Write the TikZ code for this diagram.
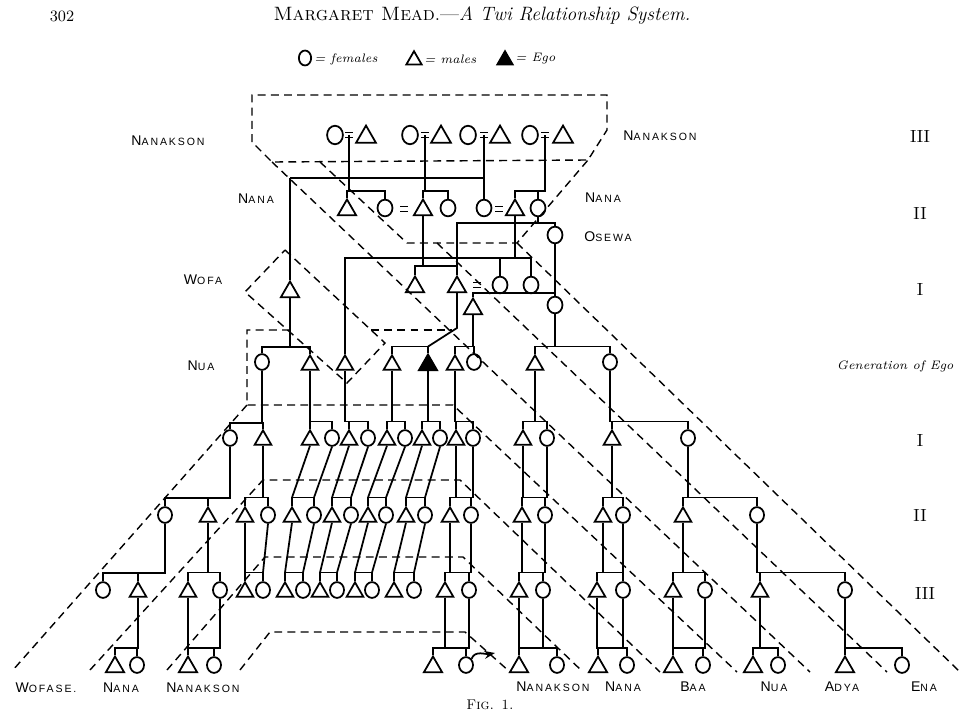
\documentclass[tikz,border=0pt]{standalone}
\usepackage{fontspec}
\usetikzlibrary{shapes.geometric,arrows.meta}
\newfontfamily\lblfont[LetterSpace=18]{Liberation Sans}
\newcommand\kin[2]{{\lblfont\fontsize{8}{9}\selectfont #1\fontsize{6}{7}\selectfont #2}}
\newcommand\marry[1]{\draw[ln] ([shift={(-4,-2.5)}]#1) -- ([shift={(4,-2.5)}]#1) ([shift={(-4,2.5)}]#1) -- ([shift={(4,2.5)}]#1);}
\begin{document}
\begin{tikzpicture}[x=0.02cm,y=-0.02cm,
 ln/.style={line width=1pt},
 dsh/.style={line width=0.8pt, dash pattern=on 4.5pt off 3pt},
 tri/.style={draw, line width=1pt, regular polygon, regular polygon sides=3, inner sep=0pt, minimum size=11pt},
 utri/.style={tri, minimum size=12pt},
 btri/.style={tri, minimum size=13pt},
 etri/.style={tri, fill=black, minimum size=12pt},
 cir/.style={draw, line width=1pt, ellipse, inner sep=0pt, minimum width=8pt, minimum height=9pt},
 ucir/.style={cir, minimum width=8.5pt, minimum height=9.5pt},
 bcir/.style={cir, minimum width=9pt, minimum height=10.5pt},
 txt/.style={inner sep=0pt},
 num/.style={inner sep=0pt, font=\fontsize{10}{11}\selectfont},
]
\fill[white] (0,0) rectangle (960,713);
\useasboundingbox (0,0) rectangle (960,713);

% ---------- header ----------
\node[txt] (pg) at (62,16) {\fontsize{9}{10}\selectfont 302};
\node[txt] (title) at (482,16) {\fontsize{11}{13}\selectfont\textsc{Margaret Mead}.---\textit{A Twi Relationship System.}};
\node[cir, minimum width=7pt, minimum height=8.5pt] (lgf) at (305,58) {};
\node[txt, anchor=west] (lgft) at (314,59) {\fontsize{7}{8}\selectfont\itshape = females};
\node[tri, minimum size=10pt] (lgm) at (414,60) {};
\node[txt, anchor=west] (lgmt) at (424,59) {\fontsize{7}{8}\selectfont\itshape = males};
\node[tri, fill=black, minimum size=10pt] (lge) at (505,60) {};
\node[txt, anchor=west] (lget) at (515,59) {\fontsize{7}{8}\selectfont\itshape = Ego};

% ---------- dashed regions ----------
\draw[dsh] (252,142) -- (252,95) -- (607,95) -- (607,130) -- (588,160) -- (272,162) -- cycle;
\draw[dsh] (272,162) -- (810,672);
\draw[dsh] (320,162) -- (407,243) -- (517,243) -- (588,160);
\draw[dsh] (437,243) -- (887,672);
\draw[dsh] (517,243) -- (960,672);
\draw[dsh] (285,250) -- (385,343) -- (347,383) -- (245,292) -- cycle;
\draw[dsh] (290,330) -- (247,330) -- (247,405) -- (453,405) -- (737,672);
\draw[dsh] (371,330) -- (452,330);
\draw[dsh] (247,405) -- (13,670);
\draw[dsh] (90,670) -- (263,480) -- (460,480) -- (660,672);
\draw[dsh] (167,670) -- (265,557) -- (463,557) -- (583,672);
\draw[dsh] (240,670) -- (270,632) -- (465,632) -- (510,672);

% ---------- generation III (top) ----------
\node[bcir] (p1f) at (335,135) {};
\node[btri] (p1m) at (366,137) {};
\node[bcir] (p2f) at (410,135) {};
\node[btri] (p2m) at (441,137) {};
\node[bcir] (p3f) at (468,135) {};
\node[btri] (p3m) at (500,137) {};
\node[bcir] (p4f) at (530,135) {};
\node[btri] (p4m) at (563,137) {};
\coordinate (e1) at (349,135); \coordinate (e2) at (425,135);
\coordinate (e3) at (484,135); \coordinate (e4) at (545,135);
\marry{e1}\marry{e2}\marry{e3}\marry{e4}

% ---------- generation II ----------
\node[utri] (q1) at (347,210) {};
\node[ucir] (q2) at (385,208) {};
\node[utri] (q3) at (423,210) {};
\node[ucir] (q4) at (448,208) {};
\node[ucir] (q5) at (484,208) {};
\node[utri] (q6) at (515,210) {};
\node[ucir] (q7) at (538,208) {};
\coordinate (e5) at (404,209); \coordinate (e6) at (499,209);
\marry{e5}\marry{e6}
\node[ucir] (os) at (555,235) {};

% ---------- generation I (parents) ----------
\node[utri] (w) at (290,292) {};
\node[utri] (r1) at (415,287) {};
\node[utri] (r2) at (457,287) {};
\node[ucir] (r3) at (500,285) {};
\node[ucir] (r4) at (531,285) {};
\coordinate (e7) at (477,285); \marry{e7}
\node[utri] (s1) at (473,309) {};
\node[ucir] (s2) at (555,305) {};

% ---------- generation of Ego ----------
\node[cir] (n1) at (262,362) {};
\node[tri] (n2) at (310,365) {};
\node[tri] (n3) at (345,365) {};
\node[tri] (n4) at (392,365) {};
\node[etri] (ego) at (428,365) {};
\node[tri] (n6) at (455,365) {};
\node[cir] (n7) at (474,362) {};
\node[tri] (n8) at (535,365) {};
\node[cir] (n9) at (610,362) {};

% ---------- descendants I ----------
\node[cir] (AL1) at (230,438) {};
\node[tri] (AL2) at (263,440) {};
\node[tri] (A1) at (310,440) {};
\node[cir] (A2) at (332,438) {};
\node[tri] (A3) at (349,440) {};
\node[cir] (A4) at (368,438) {};
\node[tri] (A5) at (387,440) {};
\node[cir] (A6) at (405,438) {};
\node[tri] (A7) at (422,440) {};
\node[cir] (A8) at (440,438) {};
\node[tri] (A9) at (456,440) {};
\node[cir] (A10) at (473,438) {};
\node[tri] (AR1) at (523,440) {};
\node[cir] (AR2) at (547,438) {};
\node[tri] (AR3) at (612,440) {};
\node[cir] (AR4) at (688,438) {};

% ---------- descendants II ----------
\node[cir] (BL1) at (165,515) {};
\node[tri] (BL2) at (208,517) {};
\node[tri] (BL3) at (245,517) {};
\node[cir] (BL4) at (268,515) {};
\node[tri] (B1) at (292,517) {};
\node[cir] (B2) at (314,515) {};
\node[tri] (B3) at (332,517) {};
\node[cir] (B4) at (351,515) {};
\node[tri] (B5) at (368,517) {};
\node[cir] (B6) at (386,515) {};
\node[tri] (B7) at (406,517) {};
\node[cir] (B8) at (425,515) {};
\node[tri] (B9) at (450,517) {};
\node[cir] (B10) at (471,515) {};
\node[tri] (BR1) at (522,517) {};
\node[cir] (BR2) at (545,515) {};
\node[tri] (BR3) at (603,517) {};
\node[cir] (BR4) at (623,515) {};
\node[tri] (BR5) at (683,517) {};
\node[cir] (BR6) at (757,515) {};

% ---------- descendants III ----------
\node[cir] (CL1) at (103,590) {};
\node[tri] (CL2) at (138,592) {};
\node[tri] (CL3) at (188,592) {};
\node[cir] (CL4) at (220,590) {};
\node[tri] (CL5) at (245,592) {};
\node[cir] (CL6) at (263,590) {};
\node[tri] (C1) at (285,592) {};
\node[cir] (C2) at (303,590) {};
\node[tri] (C3) at (320,592) {};
\node[cir] (C4) at (337,590) {};
\node[tri] (C5) at (355,592) {};
\node[cir] (C6) at (372,590) {};
\node[tri] (C7) at (394,592) {};
\node[cir] (C8) at (414,590) {};
\node[tri] (C9) at (445,592) {};
\node[cir] (C10) at (469,590) {};
\node[tri] (CR1) at (519,592) {};
\node[cir] (CR2) at (543,590) {};
\node[tri] (CR3) at (597,592) {};
\node[cir] (CR4) at (623,590) {};
\node[tri] (CR5) at (673,592) {};
\node[cir] (CR6) at (705,590) {};
\node[tri] (CR7) at (760,592) {};
\node[cir] (CR8) at (845,590) {};

% ---------- bottom row ----------
\node[utri] (DL1) at (115,667) {};
\node[cir] (DL2) at (137,665) {};
\node[utri] (DL3) at (188,667) {};
\node[cir] (DL4) at (214,665) {};
\node[utri] (D1) at (433,667) {};
\node[cir] (D2) at (466,665) {};
\node[utri] (DR1) at (519,667) {};
\node[cir] (DR2) at (557,665) {};
\node[utri] (DR3) at (598,667) {};
\node[cir] (DR4) at (627,665) {};
\node[utri] (DR5) at (673,667) {};
\node[cir] (DR6) at (703,665) {};
\node[utri] (DR7) at (753,667) {};
\node[cir] (DR8) at (778,665) {};
\node[utri] (DR9) at (845,667) {};
\node[cir] (DR10) at (902,665) {};

% ---------- connectors: top ----------
\draw[ln] (q1.north) -- ++(0,-7) coordinate (k1) -| (q2.north);
\draw[ln] (e1) -- (e1 |- k1);
\draw[ln] (q3.north) -- ++(0,-7) coordinate (k2) -| (q4.north);
\draw[ln] (e2) -- (e2 |- k2);
\coordinate (w0) at (290,178);
\draw[ln] (e3) -- (q5.north);
\draw[ln] (w0) -- (w0 -| e3);
\draw[ln] (w0) -- (w.north);
\draw[ln] (q6.north) -- ++(0,-7) coordinate (k4) -- (k4 -| e4) -- (e4);
\draw[ln] (q7.north) -- (q7.north |- k4);
\coordinate (rt) at (457,223);
\draw[ln] (q7.south) -- (q7.south |- rt);
\draw[ln] (r2.north) -- (rt) -- (rt -| os) -- (os.north);
\coordinate (hh) at (515,258);
\draw[ln] (q6.south) -- (hh);
\draw[ln] (n3.north) -- (n3.north |- hh) -- (r4.north |- hh) -- (r4.north);
\draw[ln] (r3.north |- hh) -- (r3.north);
\draw[ln] (r1.north) -- ++(0,-9) coordinate (k5) -| (r2.north);
\draw[ln] (q3.south) -- (q3.south |- k5);
\draw[ln] (os.south) -- (s2.north);
\draw[ln] (s1.north) -- ++(0,-4) coordinate (k6) -- (k6 -| s2);

% ---------- connectors: generation of Ego ----------
\draw[ln] (n1.north) -- ++(0,-6) coordinate (k7) -| (n2.north);
\draw[ln] (w.south) -- (w.south |- k7);
\coordinate (kink) at (457,328);
\draw[ln] (n4.north) -- ++(0,-7) coordinate (k8) -| (ego.north);
\draw[ln] (r2.south) -- (kink) -- (ego.north |- k8);
\draw[ln] (n6.north) -- ++(0,-7) coordinate (k9) -| (n7.north);
\draw[ln] (s1.south) -- (s1.south |- k9);
\draw[ln] (n8.north) -- ++(0,-7) coordinate (k10) -| (n9.north);
\draw[ln] (s2.south) -- (s2.south |- k10);

% ---------- connectors: descendants I ----------
\draw[ln] (AL1.north) -- ++(0,-6) coordinate (g1) -| (AL2.north);
\draw[ln] (n1.south) |- (g1);
\draw[ln] (A1.north) -- ++(0,-7) coordinate (g2) -| (A2.north);
\draw[ln] (n2.south) -- (n2.south |- g2);
\draw[ln] (A3.north) -- ++(0,-7) coordinate (g3) -| (A4.north);
\draw[ln] (n3.south) |- (g3);
\draw[ln] (A5.north) -- ++(0,-7) coordinate (g4) -| (A6.north);
\draw[ln] (n4.south) |- (g4);
\draw[ln] (A7.north) -- ++(0,-7) coordinate (g5) -| (A8.north);
\draw[ln] (ego.south) |- (g5);
\draw[ln] (A9.north) -- ++(0,-7) coordinate (g6) -| (A10.north);
\draw[ln] (n6.south) |- (g6);
\draw[ln] (AR1.north) -- ++(0,-7) coordinate (g7) -| (AR2.north);
\draw[ln] (n8.south) |- (g7);
\draw[ln] (AR3.north) -- ++(0,-7) coordinate (g8) -| (AR4.north);
\draw[ln] (n9.south) |- (g8);

% ---------- connectors: descendants II ----------
\draw[ln] (BL1.north) -- ++(0,-8) coordinate (h1) -| (AL1.south);
\draw[ln] (BL2.north) -- (BL2.north |- h1);
\draw[ln] (BL3.north) -- ++(0,-8) coordinate (h2) -| (BL4.north);
\draw[ln] (AL2.south) -- (AL2.south |- h2);
\draw[ln] (B1.north) -- ++(0,-8) coordinate (h3) -| (B2.north);
\draw[ln] (A1.south) -- (h3); \draw[ln] (A2.south) -- (B2.north |- h3);
\draw[ln] (B3.north) -- ++(0,-8) coordinate (h4) -| (B4.north);
\draw[ln] (A3.south) -- (h4); \draw[ln] (A4.south) -- (B4.north |- h4);
\draw[ln] (B5.north) -- ++(0,-8) coordinate (h5) -| (B6.north);
\draw[ln] (A5.south) -- (h5); \draw[ln] (A6.south) -- (B6.north |- h5);
\draw[ln] (B7.north) -- ++(0,-8) coordinate (h6) -| (B8.north);
\draw[ln] (A7.south) -- (h6); \draw[ln] (A8.south) -- (B8.north |- h6);
\draw[ln] (B9.north) -- ++(0,-8) coordinate (h7) -| (B10.north);
\draw[ln] (A9.south) |- (h7); \draw[ln] (A10.south) -- (A10.south |- h7);
\draw[ln] (BR1.north) -- ++(0,-8) coordinate (h8) -| (BR2.north);
\draw[ln] (AR1.south) |- (h8); \draw[ln] (AR2.south) -- (AR2.south |- h8);
\draw[ln] (BR3.north) -- ++(0,-8) coordinate (h9) -| (BR4.north);
\draw[ln] (AR3.south) |- (h9);
\draw[ln] (BR5.north) -- ++(0,-8) coordinate (h10) -| (BR6.north);
\draw[ln] (AR4.south) |- (h10);

% ---------- connectors: descendants III ----------
\draw[ln] (CL1.north) -- ++(0,-8) coordinate (t1) -| (BL1.south);
\draw[ln] (CL2.north) -- (CL2.north |- t1);
\draw[ln] (CL3.north) -- ++(0,-8) coordinate (t2) -| (CL4.north);
\draw[ln] (BL2.south) -- (BL2.south |- t2);
\draw[ln] (CL5.north) -- ++(0,-8) coordinate (t3) -| (CL6.north);
\draw[ln] (BL3.south) -- (t3); \draw[ln] (BL4.south) -- (CL6.north |- t3);
\draw[ln] (C1.north) -- ++(0,-8) coordinate (t4) -| (C2.north);
\draw[ln] (B1.south) -- (t4); \draw[ln] (B2.south) -- (C2.north |- t4);
\draw[ln] (C3.north) -- ++(0,-8) coordinate (t5) -| (C4.north);
\draw[ln] (B3.south) -- (t5); \draw[ln] (B4.south) -- (C4.north |- t5);
\draw[ln] (C5.north) -- ++(0,-8) coordinate (t6) -| (C6.north);
\draw[ln] (B5.south) -- (t6); \draw[ln] (B6.south) -- (C6.north |- t6);
\draw[ln] (C7.north) -- ++(0,-8) coordinate (t7) -| (C8.north);
\draw[ln] (B7.south) -- (t7); \draw[ln] (B8.south) -- (C8.north |- t7);
\draw[ln] (C9.north) -- ++(0,-8) coordinate (t8) -| (C10.north);
\draw[ln] (B9.south) |- (t8); \draw[ln] (B10.south) -- (B10.south |- t8);
\draw[ln] (CR1.north) -- ++(0,-8) coordinate (t9) -| (CR2.north);
\draw[ln] (BR1.south) |- (t9); \draw[ln] (BR2.south) -- (BR2.south |- t9);
\draw[ln] (CR3.north) -- ++(0,-8) coordinate (t10) -| (CR4.north);
\draw[ln] (BR3.south) |- (t10); \draw[ln] (BR4.south) -- (BR4.south |- t10);
\draw[ln] (CR5.north) -- ++(0,-8) coordinate (t11) -| (CR6.north);
\draw[ln] (BR5.south) |- (t11);
\draw[ln] (CR7.north) -- ++(0,-8) coordinate (t12) -| (CR8.north);
\draw[ln] (BR6.south) |- (t12);

% ---------- connectors: bottom ----------
\draw[ln] (DL1.north) -- ++(0,-7) coordinate (u1) -| (DL2.north);
\draw[ln] (CL2.south) |- (u1);
\draw[ln] (DL3.north) -- ++(0,-7) coordinate (u2) -| (DL4.north);
\draw[ln] (CL3.south) |- (u2); \draw[ln] (CL4.south) -- (CL4.south |- u2) -- (DL4.north |- u2);
\draw[ln] (D1.north) -- ++(0,-7) coordinate (u3) -| (D2.north);
\draw[ln] (C9.south) |- (u3); \draw[ln] (C10.south) -- (C10.south |- u3) -- (D2.north |- u3);
\draw[ln] (DR1.north) -- ++(0,-7) coordinate (u4) -| (DR2.north);
\draw[ln] (CR1.south) |- (u4); \draw[ln] (CR2.south) -- (CR2.south |- u4);
\draw[ln] (DR3.north) -- ++(0,-7) coordinate (u5) -| (DR4.north);
\draw[ln] (CR3.south) |- (u5); \draw[ln] (CR4.south) -- (CR4.south |- u5);
\draw[ln] (DR5.north) -- ++(0,-7) coordinate (u6) -| (DR6.north);
\draw[ln] (CR5.south) |- (u6); \draw[ln] (CR6.south) -- (CR6.south |- u6) -- (DR6.north |- u6);
\draw[ln] (DR7.north) -- ++(0,-7) coordinate (u7) -| (DR8.north);
\draw[ln] (CR7.south) |- (u7);
\draw[ln] (DR9.north) -- ++(0,-7) coordinate (u8) -| (DR10.north);
\draw[ln] (CR8.south) |- (u8);
\coordinate (arr) at (495,653);
\draw[ln, -{Stealth[length=6pt,width=4.5pt]}] (D2.north east) to[out=70,in=190] (arr);

% ---------- kin labels ----------
\node[txt] (lNanakL) at (168,141) {\kin{N}{ANAKSON}};
\node[txt] (lNanakR) at (660,136) {\kin{N}{ANAKSON}};
\node[txt] (lNanaL) at (256,199) {\kin{N}{ANA}};
\node[txt] (lNanaR) at (603,198) {\kin{N}{ANA}};
\node[txt] (lOsewa) at (608,237) {\kin{O}{SEWA}};
\node[txt] (lWofa) at (203,280) {\kin{W}{OFA}};
\node[txt] (lNua) at (201,366) {\kin{N}{UA}};
\node[txt] (bWofase) at (46,688) {\kin{W}{OFASE.}};
\node[txt] (bNana1) at (121,688) {\kin{N}{ANA}};
\node[txt] (bNanak1) at (203,688) {\kin{N}{ANAKSON}};
\node[txt] (bNanak2) at (553,687) {\kin{N}{ANAKSON}};
\node[txt] (bNana2) at (623,687) {\kin{N}{ANA}};
\node[txt] (bBaa) at (693,687) {\kin{B}{AA}};
\node[txt] (bNua) at (774,687) {\kin{N}{UA}};
\node[txt] (bAdya) at (842,687) {\kin{A}{DYA}};
\node[txt] (bEna) at (924,687) {\kin{E}{NA}};

% ---------- generation numbers ----------
\node[num] (gIIIa) at (920,136) {III};
\node[num] (gIIa) at (920,213) {II};
\node[num] (gIa) at (920,289) {I};
\node[txt, anchor=east] (gEgo) at (954,366) {\fontsize{7}{8}\selectfont\itshape Generation of Ego};
\node[num] (gIb) at (920,440) {I};
\node[num] (gIIb) at (920,515) {II};
\node[num] (gIIIb) at (925,593) {III};
\node[txt] (fig) at (490,705) {\fontsize{8}{9}\selectfont\textsc{Fig. 1.}};
\end{tikzpicture}
\end{document}
